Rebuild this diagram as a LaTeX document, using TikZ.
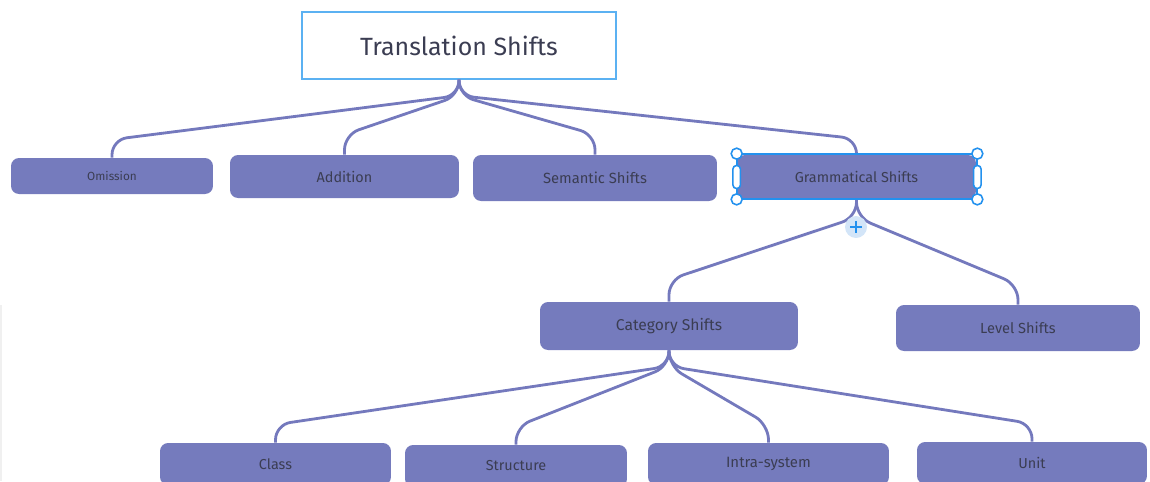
\documentclass[tikz,border=0pt]{standalone}
\usepackage{fontspec}
\setmainfont{Fira Sans}
\usetikzlibrary{calc}
\definecolor{boxfill}{HTML}{757BBD}
\definecolor{linkcol}{HTML}{7479BD}
\definecolor{txtcol}{HTML}{3B3D52}
\definecolor{selblue}{HTML}{2391EE}
\definecolor{titleline}{HTML}{5BB1F2}
\definecolor{pluscirc}{HTML}{D3E5F8}
\tikzset{
	shiftbox/.style={rectangle, rounded corners=0.16cm, fill=boxfill, text=txtcol, inner sep=0pt, font=\fontsize{8.2}{10}\selectfont},
	link/.style={draw=linkcol, line width=1.6pt, rounded corners=0.3cm},
	handle/.style={circle, draw=selblue, fill=white, line width=0.9pt, inner sep=0pt, minimum size=0.22cm},
}
\begin{document}
\begin{tikzpicture}[x=0.02cm, y=-0.02cm]
		\useasboundingbox (0,0) rectangle (1150,481);
		\clip (0,0) rectangle (1150,481);
		\fill[gray!12] (0,305) rectangle (2,481);
		\node (x1) [draw=titleline, line width=0.7pt, inner sep=0pt, minimum width=6.28cm, minimum height=1.34cm, text=txtcol, font=\fontsize{14.2}{17}\selectfont] at (459,45.5) {Translation Shifts};
		\node (x2) [shiftbox, minimum width=4.04cm, minimum height=0.72cm, font=\fontsize{6.7}{8}\selectfont] at (112,176) {Omission};
		\node (x3) [shiftbox, minimum width=4.58cm, minimum height=0.86cm] at (344.5,176.5) {Addition};
		\node (x4) [shiftbox, minimum width=4.88cm, minimum height=0.92cm, font=\fontsize{8.4}{10}\selectfont] at (595,178) {Semantic Shifts};
		\node (x5) [shiftbox, minimum width=4.78cm, minimum height=0.88cm] at (856.5,177) {Grammatical Shifts};
		\node (x6) [shiftbox, minimum width=5.16cm, minimum height=0.96cm, font=\fontsize{8.9}{10}\selectfont] at (669,326) {Category Shifts};
		\node (x7) [shiftbox, minimum width=4.88cm, minimum height=0.92cm, font=\fontsize{8.3}{10}\selectfont] at (1018,328) {Level Shifts};
		\node (x8) [shiftbox, minimum width=4.62cm, minimum height=0.84cm] at (275.5,464) {Class};
		\node (x9) [shiftbox, minimum width=4.44cm, minimum height=0.84cm] at (516,466) {Structure};
		\node (x10) [shiftbox, minimum width=4.82cm, minimum height=0.84cm, font=\fontsize{8.5}{10}\selectfont] at (768.5,464) {Intra-system};
		\node (x11) [shiftbox, minimum width=4.6cm, minimum height=0.84cm] at (1032,463) {Unit};
		
		\draw[link] (x1.south) -- ++(0,16) -- ($(x2.north)+(0,-18)$) -- (x2.north);
		\draw[link] (x1.south) -- ++(0,16) -- ($(x3.north)+(0,-20)$) -- (x3.north);
		\draw[link] (x1.south) -- ++(0,16) -- ($(x4.north)+(0,-20)$) -- (x4.north);
		\draw[link] (x1.south) -- ++(0,16) -- ($(x5.north)+(0,-16)$) -- (x5.north);
		
		\draw[link] (x5.south) -- ++(0,18) -- ($(x6.north)+(0,-22)$) -- (x6.north);
		\draw[link] (x5.south) -- ++(0,18) -- ($(x7.north)+(0,-20)$) -- (x7.north);
		
		\draw[link] (x6.south) -- ++(0,16) -- ($(x8.north)+(0,-18)$) -- (x8.north);
		\draw[link] (x6.south) -- ++(0,16) -- ($(x9.north)+(0,-18)$) -- (x9.north);
		\draw[link] (x6.south) -- ++(0,16) -- ($(x10.north)+(0,-18)$) -- (x10.north);
		\draw[link] (x6.south) -- ++(0,16) -- ($(x11.north)+(0,-18)$) -- (x11.north);
		
		\draw[selblue, line width=1.2pt] ($(x5.north west)+(0,-1)$) rectangle ($(x5.south east)+(1,0)$);
		\node (h1) [handle] at ($(x5.north west)+(0,-1)$) {};
		\node (h2) [handle] at ($(x5.north east)+(1,-1)$) {};
		\node (h3) [handle] at ($(x5.south west)$) {};
		\node (h4) [handle] at ($(x5.south east)+(1,0)$) {};
		\node (h5) [draw=selblue, fill=white, line width=0.9pt, rounded corners=0.07cm, inner sep=0pt, minimum width=0.15cm, minimum height=0.46cm] at (x5.west) {};
		\node (h6) [draw=selblue, fill=white, line width=0.9pt, rounded corners=0.07cm, inner sep=0pt, minimum width=0.15cm, minimum height=0.46cm] at ($(x5.east)+(1,0)$) {};
		
		\node (p) [circle, fill=pluscirc, inner sep=0pt, minimum size=0.44cm] at (856,227) {};
		\draw[selblue, line width=0.9pt] ($(p)+(-6,0)$) -- ($(p)+(6,0)$);
		\draw[selblue, line width=0.9pt] ($(p)+(0,-6)$) -- ($(p)+(0,6)$);
\end{tikzpicture}
\end{document}
